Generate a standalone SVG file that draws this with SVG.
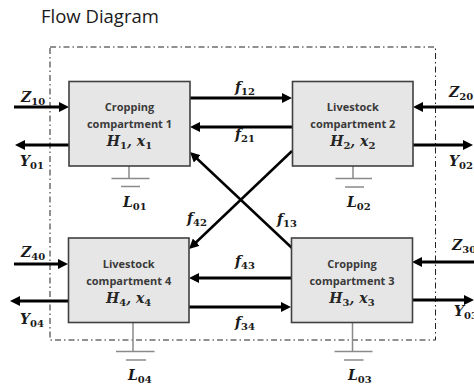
<svg xmlns="http://www.w3.org/2000/svg" width="474" height="385" viewBox="0 0 474 385">
<defs>
<marker id="ah" markerUnits="userSpaceOnUse" markerWidth="10" markerHeight="10" refX="2" refY="5" orient="auto">
<path d="M0,0 L10,5 L0,10 Z" fill="#000"/>
</marker>
<style>
.title{font-family:"Open Sans","Noto Sans",sans-serif;font-size:18.5px;fill:#1a1a1a}
.box{fill:#e6e6e6;stroke:#404040;stroke-width:1.6}
.bt{font-family:"Open Sans","Noto Sans",sans-serif;font-size:11px;font-weight:bold;fill:#3a3a3a;text-anchor:middle}
.m{font-family:"DejaVu Serif","Liberation Serif",serif;font-weight:bold;font-style:italic;font-size:14px;fill:#1a1a1a}
.bm{text-anchor:middle;fill:#262626}
.s{font-style:normal;font-size:10px}
.arr{stroke:#000;stroke-width:3;fill:none;marker-end:url(#ah)}
.diag{stroke:#000;stroke-width:2.5;fill:none;marker-end:url(#ah)}
.gnd{stroke:#8a8a8a;stroke-width:1.5;fill:none}
.bound{fill:none;stroke:#222;stroke-width:1;stroke-dasharray:6 3 1.5 3}
</style>
</defs>
<text class="title" x="41" y="23">Flow Diagram</text>
<rect class="bound" x="50" y="47" width="385.5" height="293"/>
<g id="connectors">
<line class="arr" x1="14" y1="107" x2="61" y2="107"/>
<line class="arr" x1="69" y1="145" x2="23" y2="145"/>
<line class="arr" x1="474" y1="107" x2="421" y2="107"/>
<line class="arr" x1="413" y1="145" x2="465" y2="145"/>
<line class="arr" x1="190" y1="98" x2="284" y2="98"/>
<line class="arr" x1="292" y1="127" x2="198" y2="127"/>
<line class="diag" x1="292" y1="151" x2="194.8" y2="243.5"/>
<line class="diag" x1="292" y1="248" x2="195.8" y2="157.5"/>
<line class="arr" x1="291" y1="278" x2="197" y2="278"/>
<line class="arr" x1="189" y1="307" x2="283" y2="307"/>
<line class="arr" x1="14" y1="264" x2="60" y2="264"/>
<line class="arr" x1="68" y1="301" x2="18" y2="301"/>
<line class="arr" x1="474" y1="262" x2="420" y2="262"/>
<line class="arr" x1="412" y1="300" x2="466" y2="300"/>
<path class="gnd" d="M129,166 V178.5 M111.5,178.5 H149.5 M121,186.5 H140"/>
<path class="gnd" d="M353,166 V178.5 M335.5,178.5 H372 M345,187 H364"/>
<path class="gnd" d="M133,322.5 V351.5 M116,351.5 H154.5 M126,360 H146"/>
<path class="gnd" d="M352.5,322.5 V351.5 M334.5,351.5 H372.5 M344,360 H363.5"/>
<text class="m" x="21" y="102">Z<tspan class="s" dy="3">10</tspan></text>
<text class="m" x="20" y="165.5">Y<tspan class="s" dy="3">01</tspan></text>
<text class="m" x="449" y="97">Z<tspan class="s" dy="3">20</tspan></text>
<text class="m" x="449" y="166">Y<tspan class="s" dy="3">02</tspan></text>
<text class="m" x="21" y="257">Z<tspan class="s" dy="3">40</tspan></text>
<text class="m" x="20" y="324">Y<tspan class="s" dy="3">04</tspan></text>
<text class="m" x="452" y="250">Z<tspan class="s" dy="3">30</tspan></text>
<text class="m" x="454" y="316">Y<tspan class="s" dy="3">03</tspan></text>
<text class="m" x="235" y="92">f<tspan class="s" dy="3">12</tspan></text>
<text class="m" x="235" y="139">f<tspan class="s" dy="3">21</tspan></text>
<text class="m" x="187" y="223">f<tspan class="s" dy="3">42</tspan></text>
<text class="m" x="277" y="224">f<tspan class="s" dy="3">13</tspan></text>
<text class="m" x="235" y="266">f<tspan class="s" dy="3">43</tspan></text>
<text class="m" x="235" y="327">f<tspan class="s" dy="3">34</tspan></text>
<text class="m" x="123" y="207">L<tspan class="s" dy="3">01</tspan></text>
<text class="m" x="347" y="207">L<tspan class="s" dy="3">02</tspan></text>
<text class="m" x="128" y="380">L<tspan class="s" dy="3">04</tspan></text>
<text class="m" x="348" y="380">L<tspan class="s" dy="3">03</tspan></text>
</g>
<g id="node1">
<rect class="box" x="69" y="81.5" width="121" height="84.5"/>
<text class="bt" x="129.5" y="111">Cropping</text>
<text class="bt" x="129.5" y="128">compartment 1</text>
<text class="m bm" x="129.5" y="146">H<tspan class="s" dy="3">1</tspan><tspan dy="-3">, x</tspan><tspan class="s" dy="3">1</tspan></text>
</g>
<g id="node2">
<rect class="box" x="292.5" y="81.5" width="120.5" height="84.5"/>
<text class="bt" x="352.8" y="111">Livestock</text>
<text class="bt" x="352.8" y="128">compartment 2</text>
<text class="m bm" x="352.8" y="146">H<tspan class="s" dy="3">2</tspan><tspan dy="-3">, x</tspan><tspan class="s" dy="3">2</tspan></text>
</g>
<g id="node3">
<rect class="box" x="291.5" y="238" width="121" height="84.5"/>
<text class="bt" x="352" y="267.5">Cropping</text>
<text class="bt" x="352" y="284.5">compartment 3</text>
<text class="m bm" x="352" y="302.5">H<tspan class="s" dy="3">3</tspan><tspan dy="-3">, x</tspan><tspan class="s" dy="3">3</tspan></text>
</g>
<g id="node4">
<rect class="box" x="68.5" y="238" width="120.5" height="84.5"/>
<text class="bt" x="128.7" y="267.5">Livestock</text>
<text class="bt" x="128.7" y="284.5">compartment 4</text>
<text class="m bm" x="128.7" y="302.5">H<tspan class="s" dy="3">4</tspan><tspan dy="-3">, x</tspan><tspan class="s" dy="3">4</tspan></text>
</g>
</svg>
